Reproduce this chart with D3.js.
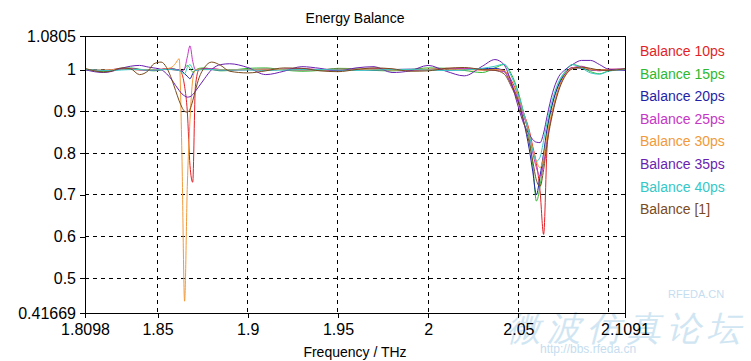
<!DOCTYPE html>
<html><head><meta charset="utf-8">
<script src="https://cdn.jsdelivr.net/npm/d3@7/dist/d3.min.js"></script>
<style>
html,body{margin:0;padding:0;background:#fff;}
text{font-family:"Liberation Sans",Arial,sans-serif;}
</style></head>
<body>
<svg id="chart" width="751" height="361"></svg>
<script>
// ---------------- data ----------------
const freq = [1.8098, 1.815, 1.82, 1.825, 1.83, 1.835, 1.84, 1.845,
  1.848, 1.852, 1.855, 1.858, 1.86, 1.862, 1.8635, 1.865, 1.8665, 1.868, 1.8695, 1.871, 1.873, 1.876, 1.88, 1.885, 1.89,
  1.90, 1.91, 1.92, 1.93, 1.94, 1.95, 1.96, 1.97, 1.98, 1.99, 2.00, 2.01, 2.02, 2.03,
  2.037, 2.042, 2.046, 2.05, 2.053, 2.056, 2.058, 2.06, 2.062, 2.064, 2.066, 2.069, 2.072, 2.076, 2.08, 2.085, 2.09,
  2.095, 2.1, 2.1091];

const balance10 = [1.0, 0.998, 0.997, 1.0, 1.002, 1.001, 0.999, 1.0,
  1.0, 1.001, 1.002, 1.0, 0.999, 0.998, 0.99, 0.96, 0.90, 0.77, 0.73, 0.96, 1.0, 1.003, 1.002, 1.0, 0.999,
  1.0, 0.998, 1.001, 1.002, 0.999, 0.998, 1.0, 1.002, 1.001, 0.998, 1.0, 1.003, 1.002, 0.999,
  1.0, 0.998, 0.975, 0.935, 0.895, 0.855, 0.815, 0.775, 0.71, 0.605, 0.82, 0.90, 0.95, 0.99, 1.005, 1.004, 1.0,
  0.998, 1.001, 1.0];
const balance15 = [1.0, 0.997, 0.995, 0.998, 1.003, 1.004, 1.001, 0.998,
  0.997, 0.999, 1.002, 1.003, 1.001, 0.998, 0.995, 1.002, 1.01, 1.003, 0.994, 0.998, 1.003, 1.004, 1.001, 0.997, 0.998,
  1.003, 1.004, 0.999, 0.996, 0.998, 1.003, 1.002, 0.998, 0.997, 1.0, 1.004, 1.003, 0.998, 0.993,
  1.004, 1.012, 0.99, 0.945, 0.895, 0.835, 0.77, 0.685, 0.72, 0.79, 0.855, 0.92, 0.962, 0.995, 1.012, 1.006, 0.995,
  0.99, 0.997, 1.002];
const balance20 = [1.0, 0.999, 0.998, 0.999, 1.001, 1.002, 1.0, 0.999,
  0.999, 1.0, 1.001, 1.001, 1.0, 0.999, 0.997, 0.99, 0.984, 0.978, 0.99, 0.998, 1.0, 1.001, 1.0, 0.999, 1.0,
  1.0, 1.001, 1.0, 0.999, 1.0, 1.001, 1.0, 0.999, 1.0, 1.001, 1.0, 0.999, 1.0, 1.002,
  1.003, 0.997, 0.965, 0.925, 0.875, 0.81, 0.755, 0.70, 0.745, 0.80, 0.86, 0.92, 0.96, 0.99, 1.004, 1.004, 0.999,
  0.998, 1.0, 1.0];
const balance25 = [1.0, 0.998, 0.998, 1.0, 1.002, 1.002, 1.0, 0.999,
  0.999, 1.0, 1.002, 1.002, 1.0, 0.998, 0.997, 1.003, 1.03, 1.057, 1.02, 1.0, 1.0, 1.002, 1.002, 1.0, 0.999,
  1.0, 1.0, 1.001, 1.002, 1.0, 0.999, 1.0, 1.001, 1.0, 0.999, 1.0, 1.002, 1.003, 1.0,
  0.998, 0.995, 0.965, 0.928, 0.888, 0.845, 0.80, 0.765, 0.745, 0.775, 0.835, 0.90, 0.948, 0.988, 1.004, 1.008, 1.001,
  0.997, 1.0, 1.002];
const balance30 = [1.0, 0.999, 0.999, 1.0, 1.001, 1.001, 1.0, 1.0,
  1.0, 1.0, 1.002, 1.006, 1.015, 1.026, 0.80, 0.445, 0.72, 0.88, 0.975, 1.0, 1.001, 1.0, 1.0, 1.0, 1.0,
  1.0, 1.001, 1.0, 0.999, 1.0, 1.001, 1.001, 1.0, 0.999, 1.0, 1.001, 1.001, 1.0, 0.999,
  1.0, 0.998, 0.97, 0.935, 0.895, 0.85, 0.81, 0.78, 0.765, 0.79, 0.845, 0.905, 0.95, 0.988, 1.003, 1.005, 1.0,
  0.999, 1.0, 1.0];
const balance35 = [1.0, 0.995, 0.993, 0.996, 1.003, 1.008, 1.01, 1.006,
  1.004, 1.0, 0.99, 0.975, 0.962, 0.95, 0.942, 0.937, 0.934, 0.935, 0.94, 0.948, 0.96, 0.978, 1.0, 1.012, 1.014,
  1.005, 0.988, 0.996, 1.007, 1.003, 0.997, 1.004, 1.007, 0.993, 0.997, 1.01, 0.996, 0.985, 1.008,
  1.024, 1.012, 0.97, 0.91, 0.87, 0.845, 0.832, 0.826, 0.825, 0.848, 0.89, 0.945, 0.98, 1.0, 1.012, 1.022, 1.022,
  1.012, 1.001, 0.998];
const balance40 = [1.0, 0.999, 0.998, 0.998, 0.999, 1.0, 1.0, 0.999,
  0.999, 1.0, 1.0, 1.0, 0.999, 0.998, 0.993, 0.99, 1.005, 1.012, 1.002, 0.998, 0.999, 1.0, 1.0, 0.999, 0.999,
  0.999, 0.998, 0.999, 1.0, 1.0, 0.999, 0.998, 0.999, 1.0, 1.0, 0.999, 0.998, 0.999, 1.003,
  1.008, 1.013, 0.985, 0.94, 0.895, 0.845, 0.805, 0.78, 0.79, 0.83, 0.875, 0.93, 0.968, 0.996, 1.012, 1.004, 0.992,
  0.989, 0.996, 1.0];
const balance1 = [1.003, 0.997, 0.994, 0.997, 1.004, 1.002, 0.988, 0.998,
  1.014, 1.018, 1.005, 0.975, 0.95, 0.925, 0.91, 0.9, 0.898, 0.905, 0.925, 0.95, 0.98, 1.005, 1.018, 1.01, 0.996,
  0.992, 0.997, 1.004, 1.003, 0.997, 0.995, 1.0, 1.004, 1.002, 0.996, 0.997, 1.003, 1.005, 1.0,
  0.998, 0.99, 0.96, 0.92, 0.875, 0.825, 0.78, 0.735, 0.72, 0.76, 0.825, 0.895, 0.945, 0.985, 1.002, 1.006, 1.003,
  0.999, 0.998, 1.002];

const seriesNames = ["Balance 10ps", "Balance 15ps", "Balance 20ps", "Balance 25ps",
                     "Balance 30ps", "Balance 35ps", "Balance 40ps", "Balance [1]"];
const seriesValues = [balance10, balance15, balance20, balance25, balance30, balance35, balance40, balance1];
const seriesColors = ["#e31f26", "#2fb82f", "#1f1fa8", "#c636c6", "#f29a3a", "#6a1fb0", "#35c8c8", "#7a4b1c"];

const xTicks = [1.8098, 1.85, 1.9, 1.95, 2, 2.05, 2.1091];
const xTickLabels = ["1.8098", "1.85", "1.9", "1.95", "2", "2.05", "2.1091"];
const xGrid = [1.85, 1.9, 1.95, 2, 2.05, 2.1];
const yTicks = [0.41669, 0.5, 0.6, 0.7, 0.8, 0.9, 1, 1.0805];
const yTickLabels = ["0.41669", "0.5", "0.6", "0.7", "0.8", "0.9", "1", "1.0805"];
const yGrid = [0.5, 0.6, 0.7, 0.8, 0.9, 1];

// ---------------- layout ----------------
const svg = d3.select("#chart");
const L = 85, R = 625, T = 36, B = 313;
const x = d3.scaleLinear().domain([1.8098, 2.1091]).range([L, R]);
const y = d3.scaleLinear().domain([0.41669, 1.0805]).range([B, T]);

// title
svg.append("text").attr("x", 355).attr("y", 23).attr("text-anchor", "middle")
  .attr("font-size", 14).attr("fill", "#000").text("Energy Balance");

// grid
const g = svg.append("g");
g.selectAll("line.vg").data(xGrid).join("line")
  .attr("x1", d => x(d)).attr("x2", d => x(d)).attr("y1", T).attr("y2", B)
  .attr("stroke", "#000").attr("stroke-dasharray", "4,4").attr("stroke-width", 1).attr("shape-rendering", "crispEdges");
g.selectAll("line.hg").data(yGrid).join("line")
  .attr("x1", L).attr("x2", R).attr("y1", d => y(d)).attr("y2", d => y(d))
  .attr("stroke", "#000").attr("stroke-dasharray", "4,4").attr("stroke-width", 1).attr("shape-rendering", "crispEdges");

// watermark (behind curves)
const wm = svg.append("g").attr("opacity", 0.6);
wm.append("text").attr("x", 507).attr("y", 340).attr("font-family", "'Noto Sans CJK SC'")
  .attr("font-size", 34).attr("fill", "#b4d6ec").attr("letter-spacing", 6).attr("font-style", "italic")
  .text("微波仿真论坛");
wm.append("text").attr("x", 668).attr("y", 298).attr("font-size", 11).attr("fill", "#9ec8e6").text("RFEDA.CN");
wm.append("text").attr("x", 540).attr("y", 353).attr("font-family", "'DejaVu Sans Mono',monospace")
  .attr("font-size", 12).attr("fill", "#9ec8e6").text("http://bbs.rfeda.cn");

// curves
const line = d3.line().x((d, i) => x(freq[i])).y(d => y(d)).curve(d3.curveMonotoneX);
svg.append("clipPath").attr("id", "clip").append("rect")
  .attr("x", L).attr("y", T).attr("width", R - L).attr("height", B - T);
const curves = svg.append("g").attr("clip-path", "url(#clip)");
seriesValues.forEach((vals, k) => {
  curves.append("path").datum(vals).attr("d", line)
    .attr("fill", "none").attr("stroke", seriesColors[k]).attr("stroke-width", 1);
});

// frame
svg.append("rect").attr("x", L).attr("y", T).attr("width", R - L).attr("height", B - T)
  .attr("fill", "none").attr("stroke", "#000").attr("stroke-width", 1).attr("shape-rendering", "crispEdges");

// axes
const xAxis = d3.axisBottom(x).tickValues(xTicks).tickFormat((d, i) => xTickLabels[i]).tickSize(5).tickPadding(6);
const yAxis = d3.axisLeft(y).tickValues(yTicks).tickFormat((d, i) => yTickLabels[i]).tickSize(5).tickPadding(4);
const gx = svg.append("g").attr("transform", `translate(0,${B})`).call(xAxis);
const gy = svg.append("g").attr("transform", `translate(${L},0)`).call(yAxis);
[gx, gy].forEach(a => {
  a.select(".domain").attr("stroke", "#000").attr("shape-rendering", "crispEdges");
  a.selectAll(".tick line").attr("stroke", "#000").attr("shape-rendering", "crispEdges");
  a.selectAll(".tick text").attr("font-size", 16).attr("fill", "#000")
    .attr("font-family", "'Liberation Sans',Arial,sans-serif");
});

// x label
svg.append("text").attr("x", 355).attr("y", 357).attr("text-anchor", "middle")
  .attr("font-size", 14).attr("fill", "#000").text("Frequency / THz");

// legend
const lg = svg.append("g");
seriesNames.forEach((name, k) => {
  lg.append("text").attr("x", 640).attr("y", 56 + k * 22.6)
    .attr("font-size", 14).attr("fill", seriesColors[k]).text(name);
});
</script>
</body></html>
